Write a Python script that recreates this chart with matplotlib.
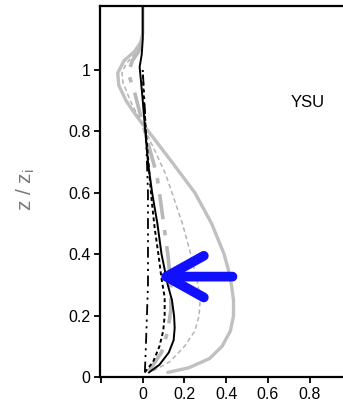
import matplotlib
matplotlib.use('Agg')
import matplotlib.pyplot as plt

plt.rcParams['font.family'] = ['Liberation Sans', 'DejaVu Sans']

# gray solid (thick)
gs_z = [0.015, 0.03, 0.06, 0.1, 0.15, 0.2, 0.25, 0.3, 0.35, 0.4, 0.5, 0.6, 0.7, 0.78,
        0.85, 0.9, 0.95, 0.99, 1.03, 1.06, 1.09, 1.12, 1.21]
gs_x = [0.12, 0.22, 0.32, 0.38, 0.42, 0.435, 0.435, 0.425, 0.41, 0.39, 0.33, 0.25, 0.14, 0.05,
        -0.03, -0.08, -0.115, -0.12, -0.09, -0.04, -0.01, 0.0, 0.0]

# gray dashed (thin)
gd_z = [0.02, 0.05, 0.1, 0.15, 0.2, 0.25, 0.3, 0.4, 0.5, 0.6, 0.66, 0.72, 0.77, 0.84,
        0.9, 0.96, 0.99, 1.02, 1.05, 1.08, 1.12]
gd_x = [0.05, 0.13, 0.2, 0.25, 0.27, 0.275, 0.265, 0.23, 0.19, 0.14, 0.11, 0.07, 0.035, -0.015,
        -0.06, -0.095, -0.1, -0.08, -0.04, -0.01, 0.0]

# gray dash-dot (thick)
gdd_z = [0.02, 0.08, 0.15, 0.22, 0.3, 0.4, 0.5, 0.6, 0.66, 0.75, 0.85, 0.93, 0.99, 1.03, 1.06, 1.1]
gdd_x = [0.03, 0.09, 0.12, 0.135, 0.135, 0.12, 0.1, 0.08, 0.067, 0.03, -0.01, -0.04, -0.07, -0.05, -0.02, 0.0]

# black solid
bs_z = [0.015, 0.04, 0.08, 0.12, 0.16, 0.2, 0.25, 0.3, 0.35, 0.4, 0.5, 0.6, 0.7, 0.8,
        0.9, 0.96, 1.01, 1.05, 1.1, 1.21]
bs_x = [0.03, 0.08, 0.125, 0.148, 0.153, 0.15, 0.14, 0.12, 0.105, 0.09, 0.07, 0.045, 0.025, 0.012,
        0.0, -0.008, -0.015, -0.005, 0.0, 0.0]

# black short dashes
bd_z = [0.015, 0.05, 0.1, 0.15, 0.2, 0.26, 0.32, 0.4, 0.48, 0.56, 0.64, 0.72, 0.8, 0.9, 1.0]
bd_x = [0.01, 0.05, 0.08, 0.098, 0.105, 0.105, 0.09, 0.075, 0.058, 0.045, 0.034, 0.025, 0.015, 0.005, 0.0]

# black dash-dot-dot
bddd_z = [0.015, 0.1, 0.2, 0.3, 0.4, 0.5, 0.6, 0.7, 0.8, 0.9, 1.0]
bddd_x = [0.01, 0.015, 0.02, 0.025, 0.025, 0.025, 0.025, 0.02, 0.015, 0.008, 0.0]

xticks = [-0.2, 0, 0.2, 0.4, 0.6, 0.8]
xtick_labels = ['', '0', '0.2', '0.4', '0.6', '0.8']
yticks = [0, 0.2, 0.4, 0.6, 0.8, 1.0]
ytick_labels = ['0', '0.2', '0.4', '0.6', '0.8', '1']

# arrow tail / tip in data coords
arrow_tail = (0.43, 0.327)
arrow_tip = (0.065, 0.327)

fig = plt.figure(figsize=(3.43, 4.04), dpi=100)
ax = fig.add_axes([0.2915, 0.0668, 0.733, 0.918])

ax.plot(gs_x, gs_z, color='#c0c0c0', lw=2.4, solid_capstyle='round')
ax.plot(gd_x, gd_z, color='#b4b4b4', lw=1.1, dashes=(3, 2))
ax.plot(gdd_x, gdd_z, color='#b8b8b8', lw=2.6, dashes=(7, 3, 1.5, 3))
ax.plot(bddd_x, bddd_z, color='black', lw=1.3, dashes=(6, 2.5, 1.2, 2.5, 1.2, 2.5))
ax.plot(bd_x, bd_z, color='black', lw=1.4, dashes=(2, 1.5))
ax.plot(bs_x, bs_z, color='black', lw=1.4)

ax.annotate('', xy=arrow_tip, xytext=arrow_tail,
            arrowprops=dict(arrowstyle='->,head_length=1.35,head_width=0.75', lw=7,
                            color='#1010ff', mutation_scale=20, shrinkA=0, shrinkB=0,
                            capstyle='round', joinstyle='round'))

ax.text(0.79, 0.895, 'YSU', fontsize=12, ha='center', va='center')

ax.set_xlim(-0.205, 1.0)
ax.set_ylim(0, 1.208)
ax.set_xticks(xticks)
ax.set_xticklabels(xtick_labels)
ax.set_yticks(yticks)
ax.set_yticklabels(ytick_labels)
ax.tick_params(direction='out', length=4, width=1.3, labelsize=11.5, pad=3)
for s in ['left', 'bottom', 'top']:
    ax.spines[s].set_linewidth(1.6)
ax.spines['right'].set_visible(False)

fig.text(0.075, 0.53, r'z / z$_\mathregular{i}$', rotation=90, color='#7a7a7a',
         fontsize=15, ha='center', va='center')

fig.savefig('out.png', dpi=100)
